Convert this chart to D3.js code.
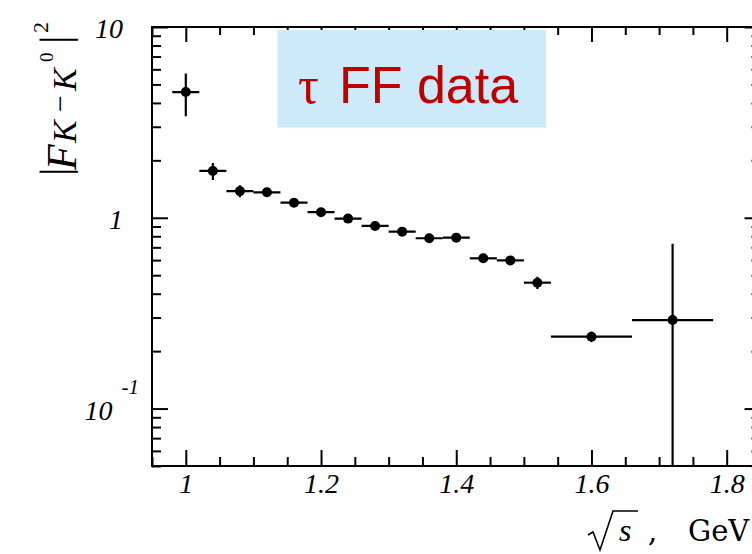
<!DOCTYPE html>
<meta charset="utf-8">
<script src="https://d3js.org/d3.v7.min.js"></script>
<style>
  body { margin: 0; background: #fff; }
  .tick line { stroke: #000; stroke-width: 2; }
  .domain { display: none; }
</style>
<div id="my_dataviz"></div>
<script>

// values
var energy  = [1.00, 1.04, 1.08, 1.12, 1.16, 1.20, 1.24, 1.28, 1.32, 1.36, 1.40, 1.44, 1.48, 1.52, 1.60, 1.72];
var binHalf = [0.02, 0.02, 0.02, 0.02, 0.02, 0.02, 0.02, 0.02, 0.02, 0.02, 0.02, 0.02, 0.02, 0.02, 0.06, 0.06];
var ff2     = [4.56, 1.76, 1.38, 1.36, 1.20, 1.07, 0.99, 0.906, 0.846, 0.781, 0.787, 0.613, 0.598, 0.457, 0.238, 0.291];
var ff2Err  = [1.15, 0.18, 0.10, 0.04, 0.04, 0.03, 0.03, 0.03, 0.03, 0.03, 0.03, 0.03, 0.03, 0.034, 0.015, 0.44];

var xLabelValues = [1.0, 1.2, 1.4, 1.6, 1.8];
var xLabels      = ["1", "1.2", "1.4", "1.6", "1.8"];
var yLabelValues = [10, 1, 0.1];
var yLabelBase   = ["10", "1", "10"];
var yLabelExp    = ["", "", "-1"];

var legendText = "FF data";

var width = 752, height = 554;
var left = 152, top_ = 27, bottom = 466, right = 760.5;

var svg = d3.select("#my_dataviz")
  .append("svg")
    .attr("width", width)
    .attr("height", height)
    .style("display", "block");

var x = d3.scaleLinear().domain([0.95, 1.85]).range([left, right]);
var y = d3.scaleLog().domain([0.05, 10]).range([bottom, top_]);

var xAll = x.ticks(18);
var xMajor = xAll.filter(function(d) { return Math.abs(d * 5 - Math.round(d * 5)) < 1e-6; });
var xMinor = xAll.filter(function(d) { return xMajor.indexOf(d) < 0; });

var yAll = y.ticks();
var isDecade = function(d) { var l = Math.log10(d); return Math.abs(l - Math.round(l)) < 1e-6; };
var yMajor = yAll.filter(isDecade);
var yMinor = yAll.filter(function(d) { return !isDecade(d); });

// ticks (pointing inwards) on all four sides
svg.append("g").attr("transform", "translate(0," + bottom + ")")
  .call(d3.axisBottom(x).tickValues(xMinor).tickSize(-9).tickSizeOuter(0).tickFormat(""));
svg.append("g").attr("transform", "translate(0," + bottom + ")")
  .call(d3.axisBottom(x).tickValues(xMajor).tickSize(-16).tickSizeOuter(0).tickPadding(7)
    .tickFormat(function(d) { return xLabels[xLabelValues.indexOf(Math.round(d * 10) / 10)]; }))
  .selectAll("text")
    .style("font-family", "'Liberation Serif', serif")
    .style("font-style", "italic")
    .style("font-size", "28px")
    .attr("fill", "#000");
svg.append("g").attr("transform", "translate(0," + top_ + ")")
  .call(d3.axisTop(x).tickValues(xMinor).tickSize(-8).tickSizeOuter(0).tickFormat(""));
svg.append("g").attr("transform", "translate(0," + top_ + ")")
  .call(d3.axisTop(x).tickValues(xMajor).tickSize(-15).tickSizeOuter(0).tickFormat(""));
svg.append("g").attr("transform", "translate(" + left + ",0)")
  .call(d3.axisLeft(y).tickValues(yMinor).tickSize(-9).tickSizeOuter(0).tickFormat(""));
svg.append("g").attr("transform", "translate(" + left + ",0)")
  .call(d3.axisLeft(y).tickValues(yMajor).tickSize(-16).tickSizeOuter(0).tickFormat(""));
svg.append("g").attr("transform", "translate(" + right + ",0)")
  .call(d3.axisRight(y).tickValues(yMinor).tickSize(-9).tickSizeOuter(0).tickFormat(""));
svg.append("g").attr("transform", "translate(" + right + ",0)")
  .call(d3.axisRight(y).tickValues(yMajor).tickSize(-16).tickSizeOuter(0).tickFormat(""));

// frame
svg.append("path")
  .attr("d", "M" + right + "," + top_ + "H" + left + "V" + bottom + "H" + right)
  .attr("fill", "none").attr("stroke", "#000").attr("stroke-width", 2);

// y labels
var ylab = svg.append("g")
  .style("font-family", "'Liberation Serif', serif")
  .style("font-style", "italic")
  .style("font-size", "28px");
yLabelValues.forEach(function(v, i) {
  var t = ylab.append("text")
    .attr("text-anchor", "end")
    .attr("x", yLabelExp[i] ? 139 : 123)
    .attr("y", y(v) + 11);
  t.append("tspan").text(yLabelBase[i]);
  if (yLabelExp[i]) {
    t.append("tspan").attr("dx", 9).attr("dy", -26).style("font-size", "21px").text(yLabelExp[i]);
  }
});

// y title |F_{K-K0}|^2, read bottom to top
var yt = svg.append("text")
  .attr("transform", "translate(0,174) rotate(-90)")
  .style("font-family", "'Liberation Serif', serif");
var ytParts = [
  { t: "|",      x: -2,  y: 69, size: 42, it: false },
  { t: "F",      x: 4,   y: 76, size: 42, it: true },
  { t: "K",      x: 31,  y: 76, size: 34, it: true },
  { t: "\u2212", x: 62,  y: 70, size: 30, it: false },
  { t: "K",      x: 83,  y: 76, size: 34, it: true },
  { t: "0",      x: 112, y: 53, size: 19, it: false },
  { t: "|",      x: 130, y: 69, size: 42, it: false },
  { t: "2",      x: 141, y: 48, size: 22, it: false }
];
ytParts.forEach(function(p) {
  yt.append("tspan")
    .attr("x", p.x).attr("y", p.y)
    .style("font-size", p.size + "px")
    .style("font-style", p.it ? "italic" : "normal")
    .text(p.t);
});

// x title: sqrt(s) , GeV
var sx = 619, sy = 541;
svg.append("path")
  .attr("d", "M" + (sx - 31) + "," + (sy - 6) + "l5,-3l7,18l13,-39h25")
  .attr("fill", "none").attr("stroke", "#000").attr("stroke-width", 1.6);
var xt = svg.append("text")
  .attr("y", sy)
  .style("font-family", "'DejaVu Serif', serif")
  .style("font-size", "29px");
xt.append("tspan").attr("x", sx).style("font-family", "'Liberation Serif', serif")
  .style("font-style", "italic").style("font-size", "32px").text("s");
xt.append("tspan").attr("x", sx + 29).text(",");
xt.append("tspan").attr("x", sx + 69).text("GeV");

// legend box
svg.append("rect")
  .attr("x", 277.5).attr("y", 30).attr("width", 268.5).attr("height", 97.5)
  .attr("fill", "#cdeafb");
var lg = svg.append("text")
  .attr("x", 298).attr("y", 103)
  .attr("fill", "#c00000")
  .style("font-size", "52px");
lg.append("tspan").style("font-family", "'Liberation Serif', serif").text("\u03c4");
lg.append("tspan").style("font-family", "'Liberation Sans', Arial, sans-serif").attr("dx", 20).text(legendText);

// data
svg.append("clipPath").attr("id", "plotclip")
  .append("rect").attr("x", left).attr("y", top_).attr("width", right - left).attr("height", bottom - top_);

var pts = energy.map(function(e, i) {
  return { x: e, dx: binHalf[i], y: ff2[i], lo: Math.max(ff2[i] - ff2Err[i], 0.05), hi: ff2[i] + ff2Err[i] };
});

var g = svg.append("g").attr("clip-path", "url(#plotclip)");
g.selectAll(".xerr").data(pts).enter().append("line")
  .attr("x1", function(d) { return x(d.x - d.dx); })
  .attr("x2", function(d) { return x(d.x + d.dx); })
  .attr("y1", function(d) { return y(d.y); })
  .attr("y2", function(d) { return y(d.y); })
  .attr("stroke", "#000").attr("stroke-width", 2.2);
g.selectAll(".yerr").data(pts).enter().append("line")
  .attr("x1", function(d) { return x(d.x); })
  .attr("x2", function(d) { return x(d.x); })
  .attr("y1", function(d) { return y(d.lo); })
  .attr("y2", function(d) { return y(d.hi); })
  .attr("stroke", "#000").attr("stroke-width", 2.2);
g.selectAll("circle").data(pts).enter().append("circle")
  .attr("cx", function(d) { return x(d.x); })
  .attr("cy", function(d) { return y(d.y); })
  .attr("r", 5)
  .attr("fill", "#000");

</script>
